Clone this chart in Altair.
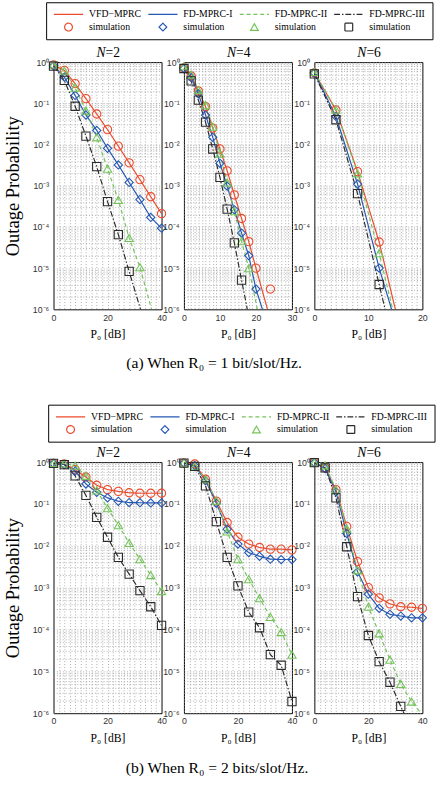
import altair as alt
import pandas as pd

# ---------------- legend / series identity ----------------
KEYS = ["L1", "L2", "L3", "L4", "S1", "S2", "S3", "S4"]
LINE_NAMES = ["VFD−MPRC", "FD-MPRC-I", "FD-MPRC-II", "FD-MPRC-III"]
SIM_NAME = "simulation"

# ---------------- (a) R0 = 1 bit/slot/Hz ----------------
P0_A2 = [0, 4, 8, 12, 16, 20, 24, 28, 32, 36, 40]
VFD_A2 = [0.85, 0.63, 0.30, 0.13, 0.055, 0.023, 9.1e-3, 3.6e-3, 1.4e-3, 5.4e-4, 2.1e-4]
FD1_A2 = [0.82, 0.43, 0.155, 0.052, 0.022, 8.1e-3, 3.2e-3, 1.2e-3, 4.6e-4, 1.7e-4, 9.3e-5]
FD2_A2 = [0.88, 0.62, 0.24, 0.066, 0.015, 2.6e-3, 4.5e-4, 5.4e-5, 1.05e-5]
FD3_A2 = [0.80, 0.36, 0.085, 0.016, 2.9e-3, 4.1e-4, 6.5e-5, 8.3e-6]
END_A2 = [None, None, (36.3, 1e-6), (32.2, 1e-6)]
EXTRA_A2 = [[], [], [], []]

P0_A4 = [0, 2, 4, 6, 8, 10, 12, 14, 16, 18, 20]
VFD_A4 = [0.72, 0.46, 0.20, 0.083, 0.025, 7.8e-3, 2.3e-3, 6.0e-4, 1.6e-4, 4.4e-5, 1.0e-5]
FD1_A4 = [0.70, 0.42, 0.17, 0.052, 0.015, 3.5e-3, 9.8e-4, 2.6e-4, 7.1e-5, 2.0e-5, 3.1e-6]
FD2_A4 = [0.80, 0.50, 0.21, 0.090, 0.027, 6.0e-3, 1.2e-3, 2.4e-4, 4.5e-5, 1.0e-5]
FD3_A4 = [0.70, 0.35, 0.12, 0.035, 7.8e-3, 1.6e-3, 2.7e-4, 4.1e-5, 5.1e-6]
END_A4 = [(23.2, 1e-6), (21.8, 1e-6), (20.4, 1e-6), (17.6, 1e-6)]
EXTRA_A4 = [[(24, 3.1e-6)], [], [], []]

P0_A6 = [0, 4, 8, 12]
VFD_A6 = [0.55, 0.069, 2.2e-3, 4.3e-5]
FD1_A6 = [0.55, 0.048, 1.1e-3, 1.0e-5]
FD2_A6 = [0.58, 0.070, 2.0e-3, 2.3e-5]
FD3_A6 = [0.52, 0.040, 6.4e-4, 4.0e-6]
END_A6 = [(15.0, 1e-6), (14.3, 1e-6), (14.5, 1e-6), (13.1, 1e-6)]
EXTRA_A6 = [[], [], [], []]

# ---------------- (b) R0 = 2 bits/slot/Hz ----------------
P0_B = [0, 4, 8, 12, 16, 20, 24, 28, 32, 36, 40]
VFD_B2 = [0.93, 0.90, 0.66, 0.44, 0.28, 0.22, 0.20, 0.185, 0.18, 0.18, 0.18]
FD1_B2 = [0.93, 0.87, 0.61, 0.30, 0.19, 0.14, 0.116, 0.108, 0.107, 0.106, 0.106]
FD2_B2 = [0.95, 0.93, 0.82, 0.47, 0.21, 0.079, 0.031, 0.0117, 4.8e-3, 2.0e-3, 8.3e-4]
FD3_B2 = [0.93, 0.87, 0.47, 0.16, 0.048, 0.016, 5.3e-3, 2.1e-3, 8.5e-4, 3.5e-4, 1.25e-4]
END_B2 = [None, None, None, None]

VFD_B4 = [0.95, 0.90, 0.39, 0.117, 0.036, 0.016, 0.011, 9.1e-3, 8.3e-3, 8.3e-3, 8.0e-3]
FD1_B4 = [0.95, 0.82, 0.36, 0.104, 0.025, 0.011, 6.9e-3, 5.6e-3, 4.8e-3, 4.7e-3, 4.7e-3]
FD2_B4 = [0.97, 0.79, 0.39, 0.12, 0.022, 4.8e-3, 1.6e-3, 5.6e-4, 2.0e-4, 8.7e-5, 2.5e-5]
FD3_B4 = [0.95, 0.79, 0.27, 0.038, 5.3e-3, 1.1e-3, 2.6e-4, 1.1e-4, 2.5e-5, 1.4e-5, 1.9e-6]
END_B4 = [None, None, None, None]

VFD_B6 = [0.97, 0.73, 0.22, 0.029, 4.2e-3, 1.0e-3, 5.7e-4, 4.1e-4, 3.5e-4, 3.4e-4, 3.2e-4]
FD1_B6 = [0.97, 0.70, 0.196, 0.0196, 2.4e-3, 7.0e-4, 3.2e-4, 2.3e-4, 2.1e-4, 1.9e-4, 1.9e-4]
FD2_B6 = [0.98, 0.84, 0.22, 0.026, 2.6e-3, 3.5e-4, 8.1e-5, 1.9e-5, 5.0e-6, 1.9e-6]
FD3_B6 = [0.97, 0.73, 0.14, 9.5e-3, 6.1e-4, 7.2e-5, 1.7e-5, 5.5e-6, 1.45e-6]
END_B6 = [None, None, (39.5, 1e-6), (33.2, 1e-6)]

NO_EXTRA = [[], [], [], []]

TITLE_VAR = "N"
PANEL_N = [2, 4, 6]
CAPTION_A = "(a) When R₀ = 1 bit/slot/Hz."
CAPTION_B = "(b) When R₀ = 2 bits/slot/Hz."
Y_TITLE = "Outage Probability"
X_TITLE = "P₀ [dB]"

# ---------------- styles ----------------
COLORS = ["#ec4a2c", "#2457b3", "#74c35a", "#2a2a2a"]
MARKERS = ["circle", "diamond", "triangle-up", "square"]
DASHES = [[1, 0], [1, 0], [4, 3], [6, 2, 1.5, 2]]

COLOR_RANGE = COLORS + COLORS
SHAPE_RANGE = ["stroke"] * 4 + MARKERS
DASH_RANGE = DASHES + [[1, 0]] * 4

LABEL_EXPR = (
    f"datum.label == 'L1' ? '{LINE_NAMES[0]}' : datum.label == 'L2' ? '{LINE_NAMES[1]}' : "
    f"datum.label == 'L3' ? '{LINE_NAMES[2]}' : datum.label == 'L4' ? '{LINE_NAMES[3]}' : '{SIM_NAME}'"
)

Y_LABEL_EXPR = (
    "abs(log(datum.value)/LN10 - round(log(datum.value)/LN10)) < 0.001 ? "
    "('10' + (round(log(datum.value)/LN10) == 0 ? '⁰' : "
    "'⁻' + ['⁰','¹','²','³','⁴','⁵','⁶'][-round(log(datum.value)/LN10)])) : ''"
)

Y_VALUES = []
for e in range(-6, 0):
    for m in range(1, 10):
        Y_VALUES.append(m * 10.0 ** e)
Y_VALUES.append(1.0)

PANEL_W = 111


def make_legend(lx, ly):
    return alt.Legend(
        title=None, orient="none", legendX=lx, legendY=ly,
        direction="horizontal", columns=4,
        symbolSize={"expr": "substring(datum.value, 0, 1) == 'S' ? 64 : 900"},
        clipHeight=11, symbolStrokeWidth=1.2,
        symbolOffset=0, labelOffset=5, columnPadding=6, rowPadding=2,
        padding=7, strokeColor="black", fillColor="white",
        labelFont="Liberation Serif", labelFontSize=10, labelColor="black",
        labelExpr=LABEL_EXPR,
    )


def panel(x, series, ends, extras, xmax, major, minor, n_value, height,
          ytitle=None, legend=None, caption=None):
    line_rows, sim_rows = [], []
    for i, vals in enumerate(series):
        for xv, yv in zip(x, vals):
            line_rows.append({"P0": xv, "p": yv, "key": KEYS[i]})
            sim_rows.append({"P0": xv, "p": yv, "key": KEYS[4 + i]})
        if ends[i] is not None:
            line_rows.append({"P0": ends[i][0], "p": ends[i][1], "key": KEYS[i]})
        for xv, yv in extras[i]:
            sim_rows.append({"P0": xv, "p": yv, "key": KEYS[4 + i]})
    df_line = pd.DataFrame(line_rows)
    df_sim = pd.DataFrame(sim_rows)

    xvals = list(range(0, xmax + 1, minor))
    xenc = alt.X(
        "P0:Q",
        scale=alt.Scale(domain=[0, xmax], nice=False, zero=False),
        axis=alt.Axis(values=xvals, labelExpr=f"datum.value % {major} == 0 ? datum.label : ''",
                      title=X_TITLE, labelPadding=4, titlePadding=7),
    )
    yaxis_kw = dict(values=Y_VALUES, labelExpr=Y_LABEL_EXPR, labelPadding=5)
    if ytitle:
        yaxis_kw.update(title=ytitle, titleFontSize=19, titlePadding=10)
    else:
        yaxis_kw.update(title=None)
    yenc = alt.Y("p:Q", scale=alt.Scale(type="log", domain=[1e-6, 1], nice=False),
                 axis=alt.Axis(**yaxis_kw))

    leg = legend if legend is not None else None
    color = alt.Color("key:N", scale=alt.Scale(domain=KEYS, range=COLOR_RANGE), legend=leg)
    dash = alt.StrokeDash("key:N", scale=alt.Scale(domain=KEYS, range=DASH_RANGE), legend=leg)
    shape = alt.Shape("key:N", scale=alt.Scale(domain=KEYS, range=SHAPE_RANGE), legend=leg)

    lines = alt.Chart(df_line).mark_line(strokeWidth=1.2, clip=True).encode(
        x=xenc, y=yenc, color=color, strokeDash=dash)
    pts = alt.Chart(df_sim).mark_point(filled=False, size=72, strokeWidth=1.1, opacity=1).encode(
        x=xenc, y=yenc, color=color, shape=shape)
    ttl_var = alt.Chart(alt.Data(values=[{"t": TITLE_VAR}])).mark_text(
        font="Liberation Serif", fontSize=14, fontStyle="italic", align="right",
        baseline="alphabetic", color="black"
    ).encode(text="t:N", x=alt.value(PANEL_W / 2 - 2), y=alt.value(-5.5))
    ttl_val = alt.Chart(alt.Data(values=[{"t": f"={n_value}"}])).mark_text(
        font="Liberation Serif", fontSize=14, align="left", baseline="alphabetic", color="black"
    ).encode(text="t:N", x=alt.value(PANEL_W / 2 - 2), y=alt.value(-5.5))
    layers = [lines, pts, ttl_var, ttl_val]
    if caption is not None:
        txt, cx, cy = caption
        cap = alt.Chart(alt.Data(values=[{"t": txt}])).mark_text(
            font="Liberation Serif", fontSize=16, align="center", baseline="middle", color="black"
        ).encode(text="t:N", x=alt.value(cx), y=alt.value(cy))
        layers.append(cap)
    return alt.layer(*layers).properties(width=PANEL_W, height=height)


pA2 = panel(P0_A2, [VFD_A2, FD1_A2, FD2_A2, FD3_A2], END_A2, EXTRA_A2, 40, 20, 2,
            PANEL_N[0], 254, ytitle=Y_TITLE)
pA4 = panel(P0_A4, [VFD_A4, FD1_A4, FD2_A4, FD3_A4], END_A4, EXTRA_A4, 30, 10, 1,
            PANEL_N[1], 254, legend=make_legend(-141.6, -61.5), caption=(CAPTION_A, 31, 309))
pA6 = panel(P0_A6, [VFD_A6, FD1_A6, FD2_A6, FD3_A6], END_A6, EXTRA_A6, 20, 10, 1,
            PANEL_N[2], 254)
pB2 = panel(P0_B, [VFD_B2, FD1_B2, FD2_B2, FD3_B2], END_B2, NO_EXTRA, 40, 20, 2,
            PANEL_N[0], 258, ytitle=Y_TITLE)
pB4 = panel(P0_B, [VFD_B4, FD1_B4, FD2_B4, FD3_B4], END_B4, NO_EXTRA, 40, 20, 2,
            PANEL_N[1], 258, legend=make_legend(-139.5, -59), caption=(CAPTION_B, 34, 314))
pB6 = panel(P0_B, [VFD_B6, FD1_B6, FD2_B6, FD3_B6], END_B6, NO_EXTRA, 40, 20, 2,
            PANEL_N[2], 258)

chart = alt.concat(
    pA2, pA4, pA6, pB2, pB4, pB6, columns=3,
    spacing={"row": 157, "column": 23}, bounds="flush",
).resolve_scale(
    x="independent", y="independent", color="independent", shape="independent", strokeDash="independent"
).resolve_legend(
    color="independent", shape="independent", strokeDash="independent"
).properties(
    padding={"left": 3, "top": -10, "right": 0, "bottom": 0}, background="white"
).configure_view(
    stroke="black", strokeWidth=1
).configure_axis(
    grid=True, gridColor="#8a8a8a", gridDash=[1, 2], gridWidth=0.7, gridOpacity=1,
    domain=False, ticks=False, labelFlush=False, labelOverlap=False,
    labelFont="Liberation Sans", labelFontSize=9, labelColor="#333333",
    titleFont="Liberation Serif", titleFontWeight="normal", titleColor="black", titleFontSize=12,
)

chart.save("out.html", embed_options={"renderer": "svg", "actions": False})
